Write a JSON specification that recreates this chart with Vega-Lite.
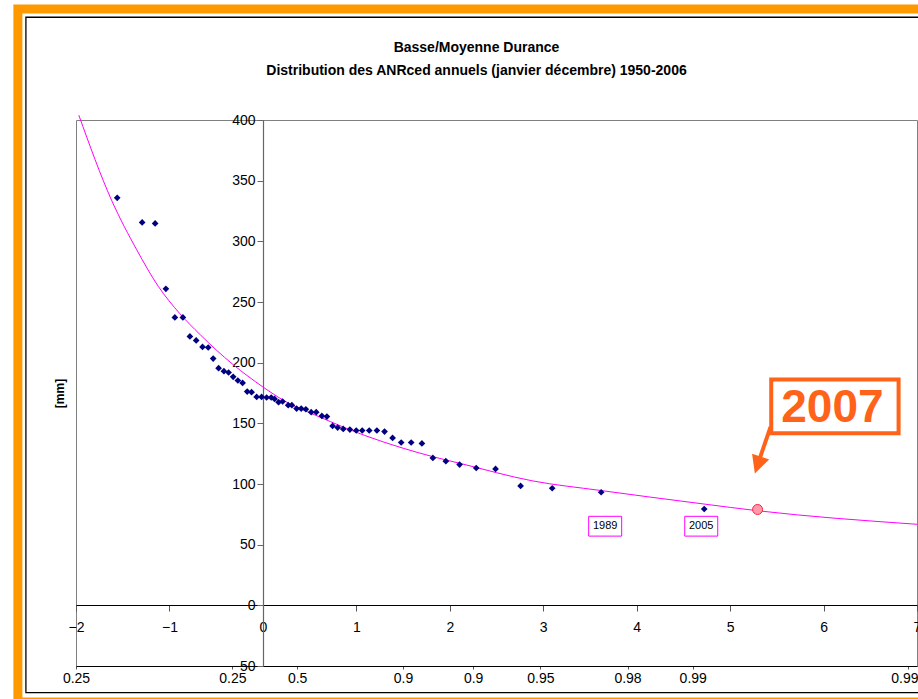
{
  "$schema": "https://vega.github.io/schema/vega-lite/v6.json",
  "width": 841,
  "height": 546,
  "autosize": {"type": "none"},
  "padding": {"left": 76, "top": 120, "right": 1, "bottom": 33},
  "background": "white",
  "title": {
    "text": "Basse/Moyenne Durance",
    "subtitle": "Distribution des ANRced annuels (janvier décembre) 1950-2006",
    "font": "Liberation Sans",
    "fontSize": 14,
    "fontWeight": "bold",
    "color": "black",
    "subtitleFont": "Liberation Sans",
    "subtitleFontSize": 14,
    "subtitleFontWeight": "bold",
    "subtitleColor": "black",
    "subtitlePadding": 9,
    "anchor": "middle",
    "frame": "group",
    "dx": -20,
    "offset": -74
  },
  "config": {
    "view": {"stroke": "#808080", "strokeWidth": 1},
    "font": "Liberation Sans"
  },
  "datasets": {
    "obs": [
      {"u": -1.559, "v": 335.9}, {"u": -1.292, "v": 315.6}, {"u": -1.153, "v": 314.8},
      {"u": -1.038, "v": 260.9}, {"u": -0.942, "v": 237.3}, {"u": -0.856, "v": 237.3},
      {"u": -0.781, "v": 221.6}, {"u": -0.714, "v": 218.3}, {"u": -0.646, "v": 213.0},
      {"u": -0.585, "v": 212.5}, {"u": -0.532, "v": 203.4}, {"u": -0.474, "v": 195.5},
      {"u": -0.417, "v": 193.0}, {"u": -0.367, "v": 191.9}, {"u": -0.318, "v": 188.3},
      {"u": -0.268, "v": 185.3}, {"u": -0.217, "v": 183.3}, {"u": -0.168, "v": 176.2},
      {"u": -0.121, "v": 175.7}, {"u": -0.067, "v": 171.8}, {"u": -0.014, "v": 171.8},
      {"u": 0.04, "v": 171.3}, {"u": 0.089, "v": 171.3}, {"u": 0.125, "v": 170.1},
      {"u": 0.168, "v": 167.4}, {"u": 0.211, "v": 168.0}, {"u": 0.271, "v": 165.0},
      {"u": 0.31, "v": 165.0}, {"u": 0.361, "v": 162.2}, {"u": 0.41, "v": 162.2},
      {"u": 0.46, "v": 161.6}, {"u": 0.517, "v": 159.2}, {"u": 0.571, "v": 159.2},
      {"u": 0.631, "v": 156.1}, {"u": 0.685, "v": 155.6}, {"u": 0.746, "v": 147.9},
      {"u": 0.8, "v": 146.5}, {"u": 0.86, "v": 145.4}, {"u": 0.931, "v": 144.9},
      {"u": 0.999, "v": 144.1}, {"u": 1.063, "v": 144.1}, {"u": 1.138, "v": 144.1},
      {"u": 1.22, "v": 144.1}, {"u": 1.302, "v": 143.2}, {"u": 1.388, "v": 138.0},
      {"u": 1.48, "v": 134.2}, {"u": 1.587, "v": 134.2}, {"u": 1.702, "v": 133.4},
      {"u": 1.819, "v": 121.5}, {"u": 1.958, "v": 118.8}, {"u": 2.105, "v": 116.0},
      {"u": 2.283, "v": 113.2}, {"u": 2.49, "v": 112.4}, {"u": 2.758, "v": 98.4},
      {"u": 3.096, "v": 96.5}, {"u": 3.62, "v": 93.2}, {"u": 4.723, "v": 79.4}
    ],
    "curve": [
      {"u": -1.97, "v": 404}, {"u": -1.62, "v": 334}, {"u": -1.35, "v": 293},
      {"u": -1.12, "v": 263}, {"u": -0.89, "v": 240.5}, {"u": -0.67, "v": 223},
      {"u": -0.5, "v": 210.5}, {"u": -0.32, "v": 198.5}, {"u": 0.0, "v": 180},
      {"u": 0.23, "v": 168.5}, {"u": 0.6, "v": 155.5}, {"u": 1.09, "v": 140},
      {"u": 1.5, "v": 129.5}, {"u": 1.82, "v": 122.5}, {"u": 2.11, "v": 117},
      {"u": 2.89, "v": 102.5}, {"u": 3.61, "v": 94.7}, {"u": 4.72, "v": 83.5},
      {"u": 5.29, "v": 78}, {"u": 7.0, "v": 66.8}
    ],
    "labels": [
      {"year": "1989", "u": 3.663},
      {"year": "2005", "u": 4.691}
    ],
    "y2007": [
      {"year": "2007", "u": 5.294, "v": 79}
    ],
    "one": [{}]
  },
  "resolve": {"axis": {"x": "independent", "y": "independent"}},
  "layer": [
    {
      "data": {"name": "one"},
      "mark": {"type": "rect", "fill": null, "stroke": "#FF9900", "strokeWidth": 9, "clip": false},
      "encoding": {
        "x": {"datum": -2.622, "type": "quantitative", "axis": null},
        "x2": {"datum": 8},
        "y": {"datum": 491.5, "type": "quantitative", "axis": null},
        "y2": {"datum": -79.6}
      }
    },
    {
      "data": {"name": "one"},
      "mark": {"type": "rect", "fill": null, "stroke": "black", "strokeWidth": 1.3, "clip": false},
      "encoding": {
        "x": {"datum": -2.536, "type": "quantitative", "axis": null},
        "x2": {"datum": 8},
        "y": {"datum": 484.7, "type": "quantitative", "axis": null},
        "y2": {"datum": -72}
      }
    },
    {
      "data": {"name": "curve"},
      "mark": {"type": "line", "color": "#FF00FF", "strokeWidth": 1, "interpolate": "monotone", "clip": false},
      "encoding": {
        "x": {
          "field": "u", "type": "quantitative",
          "scale": {"domain": [-2, 7], "nice": false, "zero": false},
          "axis": {
            "orient": "bottom", "offset": 0, "title": null, "grid": false,
            "values": [-2, -0.327, 0.367, 1.5, 2.25, 2.97, 3.902, 4.6, 6.907],
            "labelExpr": "datum.value < -1 ? '0.25' : datum.value < 0 ? '0.25' : datum.value < 1 ? '0.5' : datum.value < 2.5 ? '0.9' : datum.value < 3.5 ? '0.95' : datum.value < 4.2 ? '0.98' : datum.value < 5 ? '0.99' : '0.999'",
            "labelFlush": false, "labelOverlap": false, "labelFont": "Liberation Sans",
            "labelFontSize": 14, "labelColor": "black", "labelPadding": 2,
            "domainColor": "black", "domainWidth": 1, "tickColor": "#555555", "tickSize": 3
          }
        },
        "y": {
          "field": "v", "type": "quantitative",
          "scale": {"domain": [-50, 400], "nice": false, "zero": false},
          "axis": {
            "orient": "left", "offset": 0, "title": "[mm]", "grid": false,
            "domain": false, "ticks": false, "labels": false,
            "titleFont": "Liberation Sans", "titleFontSize": 12, "titleFontWeight": "bold",
            "titleColor": "black", "titlePadding": 10
          }
        }
      }
    },
    {
      "data": {"name": "obs"},
      "mark": {"type": "point", "shape": "diamond", "filled": true, "color": "#000080", "size": 45, "opacity": 1},
      "encoding": {
        "x": {
          "field": "u", "type": "quantitative",
          "scale": {"domain": [-2, 7], "nice": false, "zero": false},
          "axis": {
            "orient": "bottom", "offset": -61, "title": null, "grid": false,
            "values": [-2, -1, 0, 1, 2, 3, 4, 5, 6, 7],
            "labelFlush": false, "labelOverlap": false, "labelFont": "Liberation Sans",
            "labelFontSize": 14, "labelColor": "black", "labelPadding": 9,
            "domainColor": "black", "domainWidth": 1, "tickColor": "#555555", "tickSize": 6
          }
        },
        "y": {
          "field": "v", "type": "quantitative",
          "scale": {"domain": [-50, 400], "nice": false, "zero": false},
          "axis": {
            "orient": "left", "offset": -187, "title": null, "grid": false,
            "values": [-50, 0, 50, 100, 150, 200, 250, 300, 350, 400],
            "labelFont": "Liberation Sans", "labelFontSize": 14, "labelColor": "black",
            "labelPadding": 2, "domainColor": "#666666", "domainWidth": 1.2,
            "tickColor": "#666666", "tickSize": 6
          }
        }
      }
    },
    {
      "data": {"name": "y2007"},
      "mark": {"type": "point", "shape": "circle", "filled": true, "fill": "#FF9AAA", "stroke": "#FF2040", "strokeWidth": 1, "size": 100, "opacity": 1},
      "encoding": {
        "x": {"field": "u", "type": "quantitative", "axis": null},
        "y": {"field": "v", "type": "quantitative", "axis": null}
      }
    },
    {
      "data": {"name": "labels"},
      "mark": {"type": "point", "shape": "M-1,-0.6H1V0.6H-1Z", "filled": false, "fill": "white", "fillOpacity": 1, "stroke": "#FF00FF", "strokeWidth": 1, "size": 1089, "opacity": 1},
      "encoding": {
        "x": {"field": "u", "type": "quantitative", "axis": null},
        "y": {"datum": 65.2, "type": "quantitative", "axis": null}
      }
    },
    {
      "data": {"name": "labels"},
      "mark": {"type": "text", "font": "Liberation Sans", "fontSize": 11, "color": "black", "align": "center", "baseline": "middle"},
      "encoding": {
        "x": {"field": "u", "type": "quantitative", "axis": null},
        "y": {"datum": 65.2, "type": "quantitative", "axis": null},
        "text": {"field": "year"}
      }
    },
    {
      "data": {"name": "one"},
      "mark": {"type": "rule", "color": "#FF6319", "strokeWidth": 4, "clip": false},
      "encoding": {
        "x": {"datum": 5.433, "type": "quantitative", "axis": null},
        "y": {"datum": 147, "type": "quantitative", "axis": null},
        "x2": {"datum": 5.29},
        "y2": {"datum": 115}
      }
    },
    {
      "data": {"name": "one"},
      "mark": {"type": "point", "shape": "M0,0L-0.5,-1L0.5,-1Z", "filled": true, "color": "#FF6319", "size": 1296, "angle": 18.6, "opacity": 1, "clip": false},
      "encoding": {
        "x": {"datum": 5.265, "type": "quantitative", "axis": null},
        "y": {"datum": 108.6, "type": "quantitative", "axis": null}
      }
    },
    {
      "data": {"name": "one"},
      "mark": {"type": "rect", "fill": "white", "stroke": "#FF6319", "strokeWidth": 4, "clip": false},
      "encoding": {
        "x": {"datum": 5.44, "type": "quantitative", "axis": null},
        "x2": {"datum": 6.803},
        "y": {"datum": 186.1, "type": "quantitative", "axis": null},
        "y2": {"datum": 141.9}
      }
    },
    {
      "data": {"name": "one"},
      "mark": {"type": "text", "text": "2007", "font": "Liberation Sans", "fontSize": 46, "fontWeight": "bold", "color": "#FF6319", "align": "center", "baseline": "middle", "clip": false},
      "encoding": {
        "x": {"datum": 6.095, "type": "quantitative", "axis": null},
        "y": {"datum": 162.9, "type": "quantitative", "axis": null}
      }
    }
  ]
}
